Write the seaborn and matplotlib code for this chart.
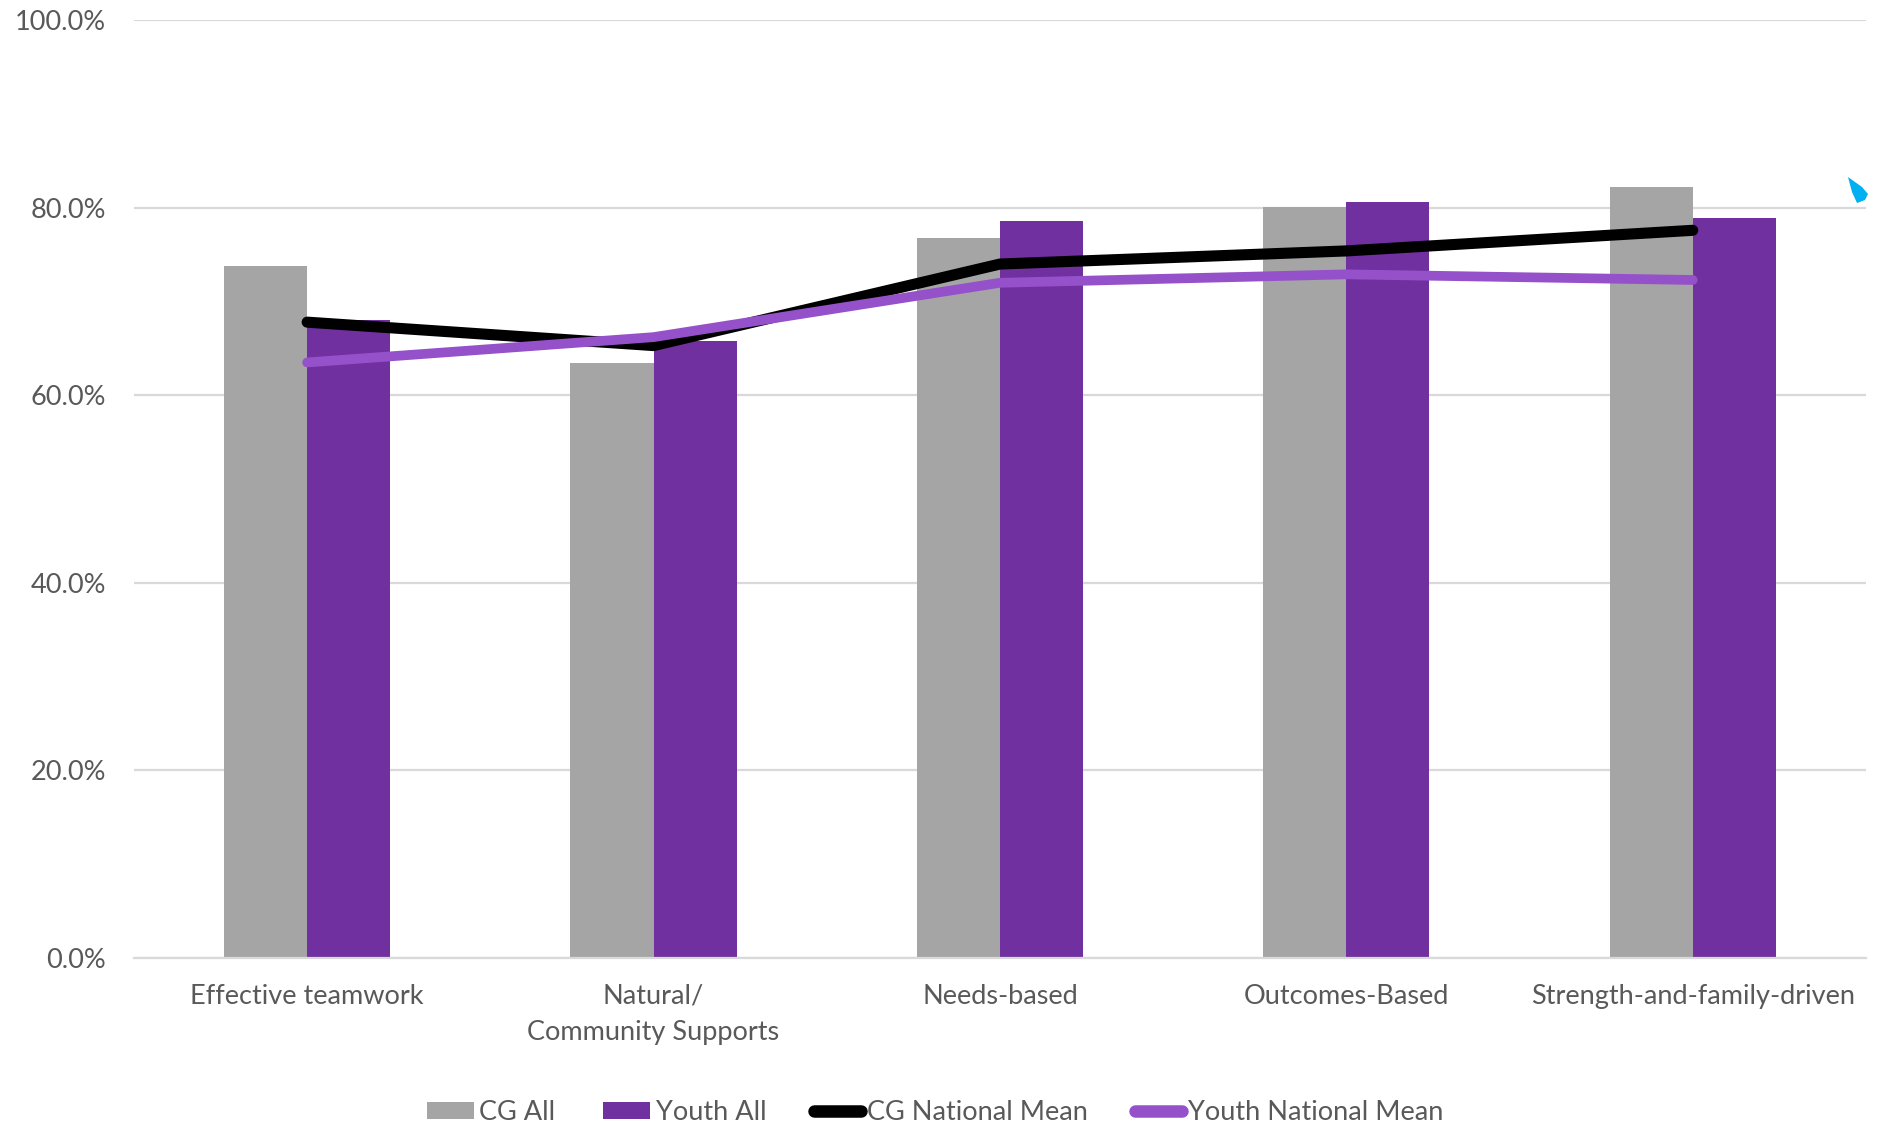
import numpy as np
import pandas as pd
import matplotlib
matplotlib.use("Agg")
import matplotlib.pyplot as plt
from matplotlib.lines import Line2D
from matplotlib.patches import Patch, Polygon
import seaborn as sns

categories = ["Effective teamwork", "Natural/\nCommunity Supports", "Needs-based",
              "Outcomes-Based", "Strength-and-family-driven"]
cg_all = [73.8, 63.4, 76.8, 80.1, 82.2]
youth_all = [68.0, 65.8, 78.6, 80.6, 78.9]
cg_national_mean = [67.8, 65.3, 74.0, 75.4, 77.6]
youth_national_mean = [63.5, 66.2, 72.0, 72.9, 72.3]
y_ticks = [0, 20, 40, 60, 80, 100]

GRAY = "#A5A5A5"
PURPLE = "#7030A0"
LINE_PURPLE = "#9551C9"
TEXT = "#595959"
GRID = "#D9D9D9"
FS = 19.5

sns.set_theme(style="white")
plt.rcParams["font.family"] = ["Lato", "DejaVu Sans"]

fig = plt.figure(figsize=(18.81, 11.26), dpi=100)
ax = fig.add_axes([0.0712, 0.1496, 0.9208, 0.8323])

bars = pd.DataFrame({
    "category": categories * 2,
    "series": ["CG All"] * 5 + ["Youth All"] * 5,
    "value": cg_all + youth_all,
})
sns.barplot(data=bars, x="category", y="value", hue="series",
            palette=[GRAY, PURPLE], width=0.48, gap=0, saturation=1,
            edgecolor="none", linewidth=0, legend=False, ax=ax, zorder=2)

pos = np.arange(len(categories))
sns.lineplot(x=pos, y=cg_national_mean, color="black", linewidth=8,
             solid_capstyle="round", ax=ax, zorder=4)
sns.lineplot(x=pos, y=youth_national_mean, color=LINE_PURPLE, linewidth=7,
             solid_capstyle="round", ax=ax, zorder=5)

ax.set_ylim(0, 100)
ax.set_xlim(-0.5, len(categories) - 0.5)
ax.set_yticks(y_ticks)
ax.set_yticklabels([f"{v:.1f}%" for v in y_ticks])
ax.set_xticks(pos)
ax.set_xticklabels(categories)
ax.yaxis.grid(True, color=GRID, linewidth=1.6, zorder=0)
ax.set_axisbelow(True)
for s in ["top", "right", "left"]:
    ax.spines[s].set_visible(False)
ax.spines["bottom"].set_color(GRID)
ax.spines["bottom"].set_linewidth(1.6)
ax.set_xlabel("")
ax.set_ylabel("")
ax.tick_params(axis="y", length=0, pad=20, labelsize=FS, labelcolor=TEXT)
ax.tick_params(axis="x", length=0, pad=19, labelsize=FS, labelcolor=TEXT)
for t in ax.get_xticklabels():
    t.set_linespacing(1.55)

handles = [
    Patch(facecolor=GRAY, edgecolor="none", label="CG All"),
    Patch(facecolor=PURPLE, edgecolor="none", label="Youth All"),
    Line2D([0], [0], color="black", linewidth=9, solid_capstyle="round", label="CG National Mean"),
    Line2D([0], [0], color=LINE_PURPLE, linewidth=9, solid_capstyle="round", label="Youth National Mean"),
]
leg = fig.legend(handles=handles, loc="lower center", bbox_to_anchor=(0.497, -0.011),
                 ncol=4, frameon=False, fontsize=FS, labelcolor=TEXT, borderpad=0,
                 handlelength=1.75, handleheight=0.6, handletextpad=0.2,
                 columnspacing=1.75)

# small cyan artifact at top right
fig.patches.append(Polygon([[1848 / 1881, 1 - 177 / 1126], [1862 / 1881, 1 - 187 / 1126],
                            [1868 / 1881, 1 - 194 / 1126], [1865 / 1881, 1 - 200 / 1126],
                            [1857 / 1881, 1 - 203 / 1126], [1852 / 1881, 1 - 192 / 1126]],
                           closed=True, transform=fig.transFigure, facecolor="#00B0F0",
                           edgecolor="none"))

fig.savefig("out.png", dpi=100)
